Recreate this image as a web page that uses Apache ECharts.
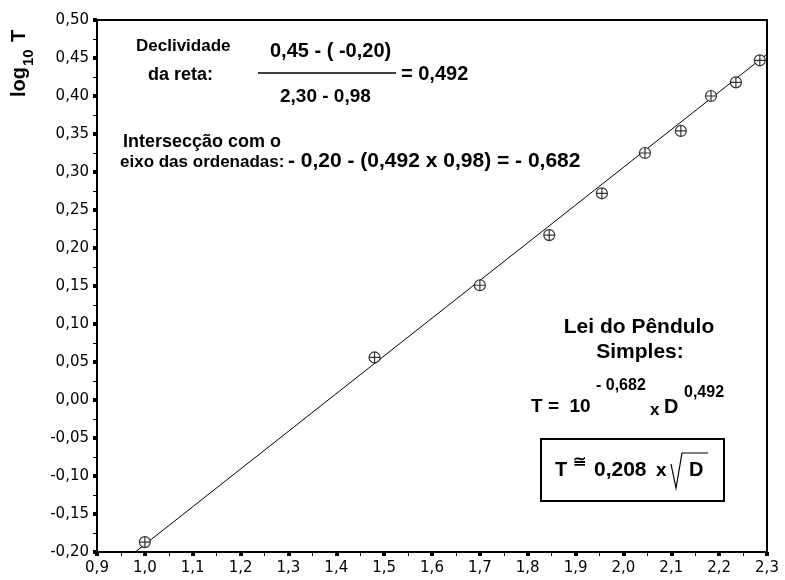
<!DOCTYPE html>
<html><head><meta charset="utf-8">
<script src="https://cdn.jsdelivr.net/npm/echarts@6/dist/echarts.min.js"></script>
<style>html,body{margin:0;padding:0;background:#fff}#c{width:785px;height:580px}</style>
</head><body><div id="c"></div>
<script>
// Data
const logD = [1.00, 1.48, 1.70, 1.845, 1.955, 2.045, 2.12, 2.183, 2.235, 2.285];
const logT = [-0.187, 0.056, 0.151, 0.217, 0.272, 0.325, 0.354, 0.400, 0.418, 0.447];
const fitX = [0.98, 2.30];
const fitY = [-0.20, 0.455];
const xMin = 0.9, xMax = 2.3, xStep = 0.1;
const yMin = -0.2, yMax = 0.5, yStep = 0.05;

const FT = 'DejaVu Sans';        // tick labels
const FA = 'Liberation Sans';    // annotations
const chart = echarts.init(document.getElementById('c'), null, {renderer: 'canvas'});
const fmt = (v, d) => v.toFixed(d).replace('.', ',');
const symbolPath = 'path://M10,0A10,10,0,1,1,-10,0A10,10,0,1,1,10,0ZM-10,0L10,0M0,-10L0,10';

function t(x, y, text, size, align) {
  return {
    type: 'text', x: x, y: y, z: 100,
    style: {text: text, font: 'bold ' + size + 'px "' + FA + '"', fill: '#000',
      textAlign: align || 'left', textVerticalAlign: 'middle'}
  };
}
function ln(x1, y1, x2, y2, w) {
  return {type: 'line', z: 100, shape: {x1: x1, y1: y1, x2: x2, y2: y2}, style: {stroke: '#000', lineWidth: w || 1}};
}

const option = {
  animation: false,
  backgroundColor: '#fff',
  grid: {left: 97, right: 18, top: 20, bottom: 28, show: true, borderColor: '#000', borderWidth: 2, backgroundColor: 'transparent'},
  xAxis: {
    type: 'value', min: xMin, max: xMax, interval: xStep,
    axisLine: {show: true, onZero: false, lineStyle: {color: '#000', width: 2}},
    axisTick: {show: true, inside: false, length: 4, lineStyle: {color: '#000', width: 4}},
    minorTick: {show: true, splitNumber: 2, length: 4, lineStyle: {color: '#000', width: 1}},
    splitLine: {show: false},
    axisLabel: {color: '#000', fontFamily: FT, fontSize: 15, margin: 9, formatter: v => fmt(v, 1)}
  },
  yAxis: {
    type: 'value', min: yMin, max: yMax, interval: yStep,
    axisLine: {show: true, onZero: false, lineStyle: {color: '#000', width: 2}},
    axisTick: {show: true, inside: false, length: 4, lineStyle: {color: '#000', width: 4}},
    minorTick: {show: true, splitNumber: 2, length: 4, lineStyle: {color: '#000', width: 1}},
    splitLine: {show: false},
    axisLabel: {color: '#000', fontFamily: FT, fontSize: 15, margin: 8, formatter: v => fmt(v, 2)}
  },
  series: [
    {
      type: 'line', data: fitX.map((x, i) => [x, fitY[i]]), symbol: 'none', z: 2,
      lineStyle: {color: '#000', width: 1}, silent: true
    },
    {
      type: 'scatter', data: logD.map((x, i) => [x, logT[i]]), symbol: symbolPath, symbolSize: 11, z: 3,
      itemStyle: {color: '#fff', borderColor: '#000', borderWidth: 1.2}
    }
  ],
  graphic: [
    // y axis name
    {type: 'group', x: 19, y: 64, rotation: Math.PI / 2, z: 100, children: [
      {type: 'text', x: -33, y: 0, style: {text: 'log', font: 'bold 20px "' + FA + '"', fill: '#000', textAlign: 'left', textVerticalAlign: 'middle'}},
      {type: 'text', x: -2, y: 10, style: {text: '10', font: 'bold 15px "' + FA + '"', fill: '#000', textAlign: 'left', textVerticalAlign: 'middle'}},
      {type: 'text', x: 22, y: 0, style: {text: 'T', font: 'bold 20px "' + FA + '"', fill: '#000', textAlign: 'left', textVerticalAlign: 'middle'}}
    ]},
    // slope
    t(136, 46, 'Declividade', 17),
    t(148, 75, 'da reta:', 18),
    t(270, 51, '0,45 - ( -0,20)', 20),
    ln(258, 73, 396, 73, 1.5),
    t(401, 74, '= 0,492', 20),
    t(280, 97, '2,30 - 0,98', 19),
    // intercept
    t(123, 142, 'Intersecção com o', 18),
    t(120, 162, 'eixo das ordenadas:', 17),
    t(288, 161, '- 0,20 - (0,492 x 0,98) = - 0,682', 21),
    // law
    t(639, 327, 'Lei do Pêndulo', 21, 'center'),
    t(640, 352, 'Simples:', 21, 'center'),
    t(531, 407, 'T =  10', 19),
    t(596, 386, '- 0,682', 16),
    t(650, 410, 'x', 17),
    t(664, 407, 'D', 20),
    t(684, 393, '0,492', 16),
    // boxed formula
    {type: 'rect', z: 100, shape: {x: 541, y: 439, width: 183, height: 62}, style: {fill: '#fff', stroke: '#000', lineWidth: 2}},
    t(555, 470, 'T', 20),
    t(573, 463, '≅', 16),
    t(594, 470, '0,208', 21),
    t(656, 471, 'x', 19),
    {type: 'polyline', z: 101, shape: {points: [[671, 464], [676, 488], [682, 453], [708, 453]]}, style: {stroke: '#000', lineWidth: 1.2, fill: null}},
    t(689, 470, 'D', 20)
  ]
};
chart.setOption(option);
</script></body></html>
